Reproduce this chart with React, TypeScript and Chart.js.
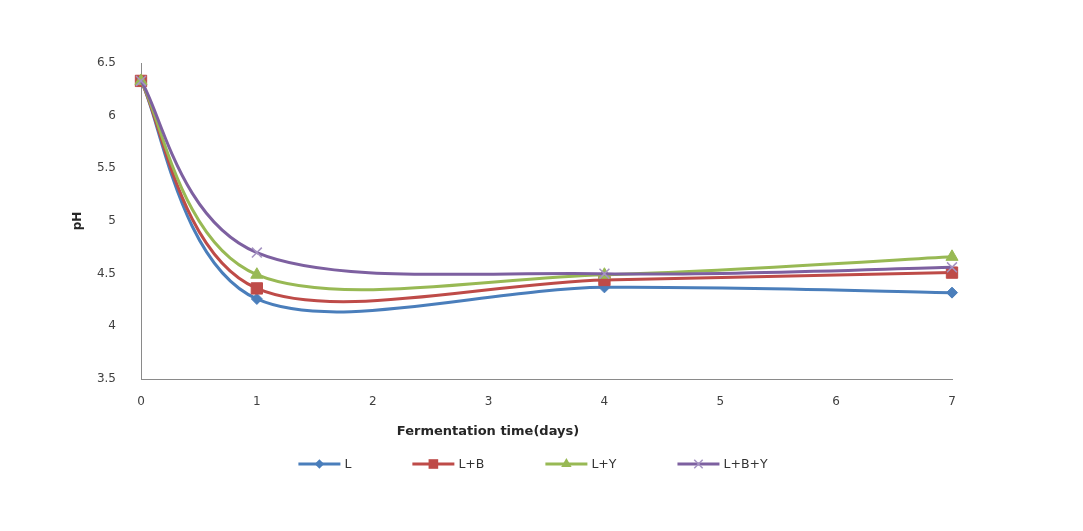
import React, { useEffect, useRef } from "react";
import { Chart, registerables } from "chart.js";

Chart.register(...registerables);

const days = [0, 1, 4, 7];
const seriesNames = ["L", "L+B", "L+Y", "L+B+Y"];
const valuesL = [6.33, 4.26, 4.37, 4.32];
const valuesLB = [6.33, 4.36, 4.44, 4.51];
const valuesLY = [6.33, 4.49, 4.49, 4.66];
const valuesLBY = [6.33, 4.7, 4.5, 4.56];
const xTicks = [0, 1, 2, 3, 4, 5, 6, 7];
const yTicks = [3.5, 4, 4.5, 5, 5.5, 6, 6.5];
const xTitle = "Fermentation time(days)";
const yTitle = "pH";

const colors = ["#4A7EBB", "#BE4B48", "#98B954", "#7D60A0"];
const styles = ["rectRot", "rect", "triangle", "crossRot"];
const radii = [5.5, 8, 7, 7];
const FONT = "'DejaVu Sans', sans-serif";

function drawMarker(ctx: CanvasRenderingContext2D, style: string, x: number, y: number, r: number, color: string) {
  ctx.save();
  ctx.fillStyle = color;
  ctx.strokeStyle = color;
  ctx.beginPath();
  if (style === "rectRot") {
    ctx.moveTo(x, y - r);
    ctx.lineTo(x + r, y);
    ctx.lineTo(x, y + r);
    ctx.lineTo(x - r, y);
    ctx.closePath();
    ctx.fill();
  } else if (style === "rect") {
    const s = r * Math.SQRT1_2;
    ctx.rect(x - s, y - s, 2 * s, 2 * s);
    ctx.fill();
  } else if (style === "triangle") {
    ctx.moveTo(x, y - r);
    ctx.lineTo(x + r * 0.87, y + r * 0.5);
    ctx.lineTo(x - r * 0.87, y + r * 0.5);
    ctx.closePath();
    ctx.fill();
  } else {
    const s = r * Math.SQRT1_2;
    ctx.strokeStyle = "#A593C2";
    ctx.lineWidth = 1.5;
    ctx.moveTo(x - s, y - s);
    ctx.lineTo(x + s, y + s);
    ctx.moveTo(x + s, y - s);
    ctx.lineTo(x - s, y + s);
    ctx.stroke();
  }
  ctx.restore();
}

// Spreadsheet-style smoothing: tangent = (next - prev) / 6 at every point.
const smoothPlugin = {
  id: "sheetSmooth",
  beforeDatasetsDraw(chart: any) {
    chart.data.datasets.forEach((_: any, di: number) => {
      const meta = chart.getDatasetMeta(di);
      const pts = meta.data;
      const n = pts.length;
      for (let i = 0; i < n; i++) {
        const p = pts[i];
        const prev = pts[Math.max(i - 1, 0)];
        const next = pts[Math.min(i + 1, n - 1)];
        const dx = (next.x - prev.x) / 6;
        const dy = (next.y - prev.y) / 6;
        p.cp1x = p.x - dx;
        p.cp1y = p.y - dy;
        p.cp2x = p.x + dx;
        p.cp2y = p.y + dy;
      }
      if (meta.dataset) meta.dataset._path = undefined;
    });
  },
};

const overlayPlugin = {
  id: "overlay",
  afterDraw(chart: any) {
    const ctx: CanvasRenderingContext2D = chart.ctx;
    ctx.save();
    ctx.font = `bold 13px ${FONT}`;
    ctx.fillStyle = "#262626";
    ctx.textAlign = "center";
    ctx.textBaseline = "middle";
    ctx.fillText(xTitle, 488, 432);
    ctx.font = `12.5px ${FONT}`;
    const lineLen = 42;
    const gapText = 4;
    const gapItem = 61;
    const widths = seriesNames.map((n) => lineLen + gapText + ctx.measureText(n).width);
    const total = widths.reduce((a, b) => a + b, 0) + gapItem * (seriesNames.length - 1);
    let x = 533 - total / 2;
    const y = 464;
    seriesNames.forEach((name, i) => {
      ctx.strokeStyle = colors[i];
      ctx.lineWidth = 3;
      ctx.beginPath();
      ctx.moveTo(x, y);
      ctx.lineTo(x + lineLen, y);
      ctx.stroke();
      drawMarker(ctx, styles[i], x + lineLen / 2, y, radii[i] * 0.85, colors[i]);
      ctx.fillStyle = "#333333";
      ctx.textAlign = "left";
      ctx.textBaseline = "middle";
      ctx.fillText(name, x + lineLen + gapText, y + 1);
      x += widths[i] + gapItem;
    });
    ctx.restore();
  },
};

export default function App() {
  const ref = useRef<HTMLCanvasElement | null>(null);
  useEffect(() => {
    if (!ref.current) return;
    const all = [valuesL, valuesLB, valuesLY, valuesLBY];
    const chart = new Chart(ref.current, {
      type: "line",
      data: {
        datasets: all.map((vals, i) => ({
          label: seriesNames[i],
          data: days.map((d, j) => ({ x: d, y: vals[j] })),
          borderColor: colors[i],
          backgroundColor: colors[i],
          borderWidth: 3,
          tension: 0.3,
          pointStyle: styles[i] as any,
          pointRadius: radii[i],
          pointBorderWidth: i === 3 ? 1.5 : 1,
          pointBorderColor: i === 3 ? "#A593C2" : colors[i],
          pointBackgroundColor: colors[i],
          clip: false as any,
          order: 3 - i,
        })),
      },
      plugins: [smoothPlugin, overlayPlugin],
      options: {
        animation: false,
        responsive: true,
        maintainAspectRatio: false,
        layout: { padding: { left: 0, top: 63, right: 131, bottom: 112 } },
        plugins: { legend: { display: false }, tooltip: { enabled: false } },
        scales: {
          x: {
            type: "linear",
            min: 0,
            max: 7,
            afterFit: (s: any) => { s.height = 40; },
            afterBuildTicks: (s: any) => { s.ticks = xTicks.map((v) => ({ value: v })); },
            grid: { display: false, drawTicks: false },
            border: { display: true, color: "#8A8A8A", width: 1 },
            ticks: {
              padding: 16,
              color: "#404040",
              font: { family: FONT, size: 12 },
              callback: (v: any) => String(v),
            },
          },
          y: {
            type: "linear",
            min: 3.5,
            max: 6.5,
            afterFit: (s: any) => { s.width = 141; },
            afterBuildTicks: (s: any) => { s.ticks = yTicks.map((v) => ({ value: v })); },
            grid: { display: false, drawTicks: false },
            border: { display: true, color: "#8A8A8A", width: 1 },
            title: {
              display: true,
              text: yTitle,
              color: "#262626",
              font: { family: FONT, size: 12, weight: "bold" },
              padding: { top: 71, bottom: 0 },
            },
            ticks: {
              padding: 25,
              color: "#404040",
              font: { family: FONT, size: 12 },
              callback: (v: any) => String(v),
            },
          },
        },
      },
    });
    return () => chart.destroy();
  }, []);
  return (
    <div style={{ position: "fixed", left: 0, top: 0, width: 1083, height: 531, background: "#fff" }}>
      <canvas ref={ref} />
    </div>
  );
}
